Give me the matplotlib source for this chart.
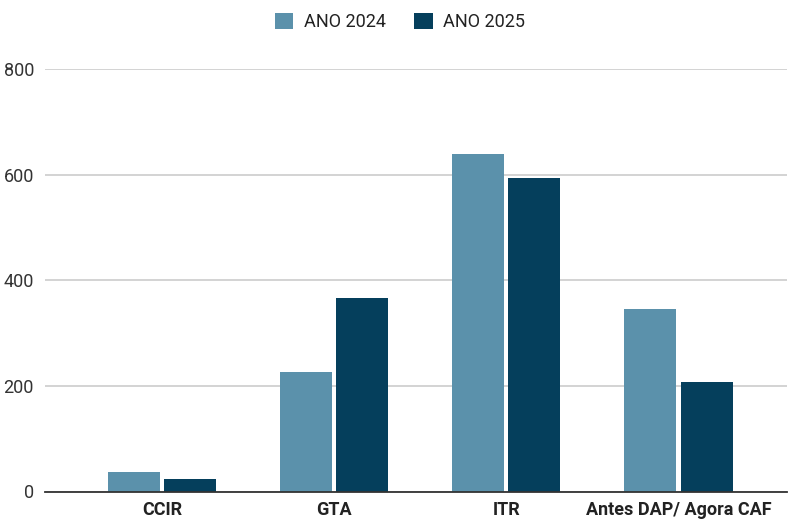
import matplotlib
matplotlib.use("Agg")
import matplotlib.pyplot as plt
import numpy as np
from matplotlib import font_manager

categories = ["CCIR", "GTA", "ITR", "Antes DAP/ Agora CAF"]
ano_2024 = [36, 227, 640, 345]
ano_2025 = [23, 367, 594, 207]
series_labels = ["ANO 2024", "ANO 2025"]
yticks = [0, 200, 400, 600, 800]

names = {f.name for f in font_manager.fontManager.ttflist}
fam = "Liberation Sans Narrow" if "Liberation Sans Narrow" in names else "Roboto"
plt.rcParams["font.family"] = [fam, "DejaVu Sans"]

c24 = "#5b91ab"
c25 = "#053f5c"

fig = plt.figure(figsize=(7.88, 5.21), dpi=100)
ax = fig.add_axes([45/788, 29.5/521, 742/788, 422.5/521])

x = np.arange(len(categories))
w = 0.302
gap = 0.012
ax.bar(x - w/2 - gap, ano_2024, width=w, color=c24, label=series_labels[0], zorder=3)
ax.bar(x + w/2 + gap, ano_2025, width=w, color=c25, label=series_labels[1], zorder=3)

ax.set_ylim(0, 800)
ax.set_xlim(-0.68, 3.63)
ax.set_yticks(yticks)
ax.set_yticklabels([str(v) for v in yticks], fontsize=13, color="#333333")
ax.set_xticks(x)
ax.set_xticklabels(categories, fontsize=13, fontweight="bold", color="#222222")
ax.tick_params(axis="both", length=0)
ax.tick_params(axis="y", pad=8)
ax.tick_params(axis="x", pad=7)
ax.grid(axis="y", color="#cccccc", linewidth=1.2, zorder=0)
for s in ["top", "right", "left"]:
    ax.spines[s].set_visible(False)
ax.spines["bottom"].set_color("#333333")
ax.spines["bottom"].set_linewidth(1.3)
ax.spines["bottom"].set_zorder(4)

fig.legend(loc="center", bbox_to_anchor=(400/788, 1 - 22/521), ncol=2, frameon=False,
           fontsize=13, handlelength=1.0, handleheight=1.0, columnspacing=1.6,
           handletextpad=0.6, labelcolor="#222222")

fig.savefig("out.png", dpi=100)
